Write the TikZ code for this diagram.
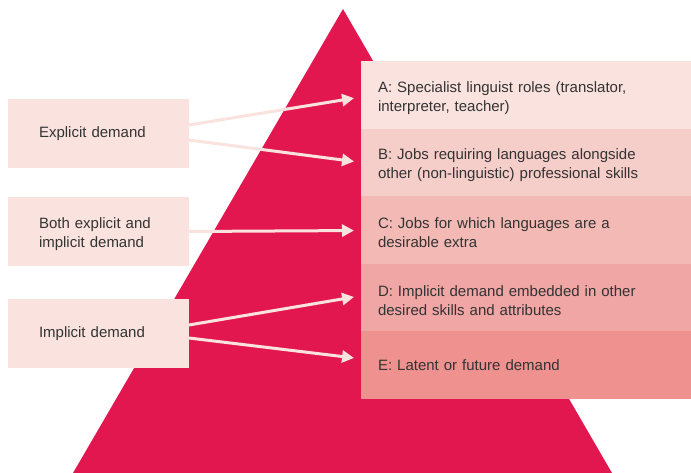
\documentclass[tikz,border=0pt]{standalone}
\usepackage{fontspec}
\setmainfont{Liberation Sans}
\usetikzlibrary{arrows.meta}
\definecolor{tri}{HTML}{E3174F}
\definecolor{ca}{HTML}{FAE3DF}
\definecolor{cb}{HTML}{F6CEC9}
\definecolor{cc}{HTML}{F3BAB5}
\definecolor{cd}{HTML}{F0A6A4}
\definecolor{ce}{HTML}{EE918F}
\definecolor{txt}{HTML}{333333}
\begin{document}
\begin{tikzpicture}[x=1pt,y=-1pt,
  basebox/.style={rectangle, outer sep=0pt, inner ysep=0pt, align=left, text=txt,
    font=\fontsize{15}{19}\selectfont, anchor=north west},
  rbox/.style={basebox, minimum width=330pt, minimum height=67.6pt, inner xsep=17pt, text width=296pt},
  lower/.style={execute at begin node={\rule{0pt}{17pt}}},
  lbox/.style={basebox, fill=ca, minimum width=181pt, minimum height=69pt, inner xsep=31pt, text width=119pt},
  link/.style={draw=ca, line width=3pt, -{Triangle[length=12pt,width=12pt]}, shorten >=7pt}]
\useasboundingbox (0,0) rectangle (691,473);
\fill[tri] (343,9) -- (612,473) -- (73,473) -- cycle;
\node[rbox, lower, fill=ca] (A) at (361,61) {A: Specialist linguist roles (translator,\\interpreter, teacher)};
\node[rbox, lower, fill=cb] (B) at (361,128.6) {B: Jobs requiring languages alongside\\other (non-linguistic) professional skills};
\node[rbox, lower, fill=cc] (C) at (361,196.2) {C: Jobs for which languages are a\\desirable extra};
\node[rbox, lower, fill=cd] (D) at (361,263.8) {D: Implicit demand embedded in other\\desired skills and attributes};
\node[rbox, fill=ce] (E) at (361,331.4) {E: Latent or future demand};
\node[lbox] (L1) at (8,99) {Explicit demand};
\node[lbox, lower] (L2) at (8,197) {Both explicit and\\implicit demand};
\node[lbox] (L3) at (8,299) {Implicit demand};
\draw[link] ([yshift=8.5pt]L1.east) -- ([yshift=-2.2pt]A.west);
\draw[link] ([yshift=-6.5pt]L1.east) -- (B.west);
\draw[link] (L2.east) -- ([yshift=-0.5pt]C.west);
\draw[link] ([yshift=8.5pt]L3.east) -- ([yshift=1.8pt]D.west);
\draw[link] ([yshift=-4.5pt]L3.east) -- ([yshift=6.4pt]E.west);
\end{tikzpicture}
\end{document}
